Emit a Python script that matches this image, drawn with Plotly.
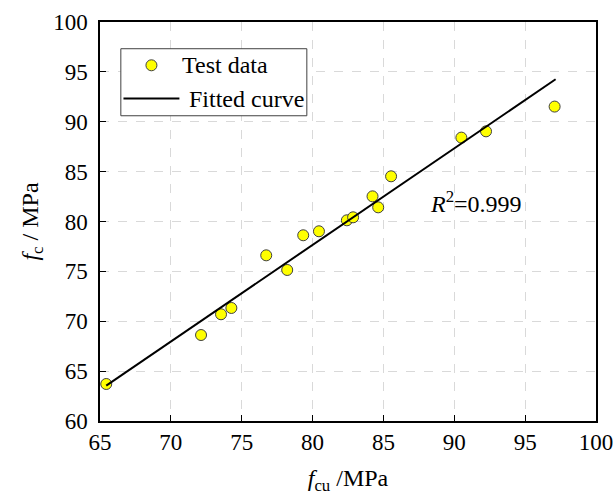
import plotly.graph_objects as go

# Measured cube strength vs. prism strength (MPa)
fcu = [65.44, 72.13, 73.54, 74.27, 76.73, 78.21, 79.34, 80.45, 82.42, 82.86,
       84.23, 84.63, 85.54, 90.50, 92.24, 97.08]
fc = [63.71, 68.62, 70.70, 71.33, 76.61, 75.14, 78.62, 79.02, 80.12, 80.42,
      82.52, 81.42, 84.53, 88.41, 89.04, 91.52]

# Linear fit endpoints
fit_x = [65.44, 97.15]
fit_y = [63.55, 94.26]

x_ticks = [65, 70, 75, 80, 85, 90, 95, 100]
y_ticks = [60, 65, 70, 75, 80, 85, 90, 95, 100]

FONT = "Liberation Serif, Times New Roman, serif"
MARKER_FILL = "#FFFF00"
MARKER_EDGE = "#404040"

fig = go.Figure()
fig.add_trace(go.Scatter(
    x=fcu, y=fc, mode="markers", name="Test data", showlegend=False,
    marker=dict(size=11, color=MARKER_FILL, line=dict(color=MARKER_EDGE, width=1)),
))
fig.add_trace(go.Scatter(
    x=fit_x, y=fit_y, mode="lines", name="Fitted curve", showlegend=False,
    line=dict(color="black", width=2),
))

axis_common = dict(
    showline=True, linecolor="black", linewidth=1.5, mirror=True,
    ticks="inside", ticklen=6, tickwidth=1.2, tickcolor="black",
    showgrid=True, gridcolor="#d9d9d9", gridwidth=1, griddash="dash",
    zeroline=False, automargin=False,
    tickfont=dict(family=FONT, size=23, color="black"),
)

fig.update_xaxes(
    range=[65, 100], tickvals=x_ticks, ticktext=[str(v) for v in x_ticks],
    title=dict(text="<i>f</i><sub>cu</sub> /MPa",
               font=dict(family=FONT, size=24, color="black"), standoff=18),
    **axis_common,
)
fig.update_yaxes(
    range=[60, 100], tickvals=y_ticks, ticktext=[str(v) for v in y_ticks],
    ticklabelstandoff=6,
    title=dict(text="<i>f</i><sub>c</sub> / MPa",
               font=dict(family=FONT, size=24, color="black"), standoff=8),
    **axis_common,
)

fig.add_annotation(
    x=91.5, y=82.0, xref="x", yref="y", showarrow=False,
    text="<i>R</i><sup>2</sup>=0.999",
    font=dict(family=FONT, size=24, color="black"),
)

# Legend box drawn in paper coordinates
fig.add_shape(type="rect", xref="paper", yref="paper",
              x0=0.042, x1=0.417, y0=0.765, y1=0.933,
              line=dict(color=MARKER_EDGE, width=1), fillcolor="white", layer="above")
fig.add_shape(type="circle", xref="paper", yref="paper",
              xsizemode="pixel", ysizemode="pixel",
              xanchor=0.1037, yanchor=0.8915, x0=-5.5, x1=5.5, y0=-5.5, y1=5.5,
              line=dict(color=MARKER_EDGE, width=1), fillcolor=MARKER_FILL, layer="above")
fig.add_shape(type="line", xref="paper", yref="paper",
              x0=0.0473, x1=0.1601, y0=0.808, y1=0.808,
              line=dict(color="black", width=2), layer="above")
fig.add_annotation(x=0.162, y=0.8915, xref="paper", yref="paper",
                   xanchor="left", yanchor="middle", showarrow=False,
                   text="Test data", font=dict(family=FONT, size=24, color="black"))
fig.add_annotation(x=0.1756, y=0.808, xref="paper", yref="paper",
                   xanchor="left", yanchor="middle", showarrow=False,
                   text="Fitted curve", font=dict(family=FONT, size=24, color="black"))

fig.update_layout(
    width=614, height=495,
    margin=dict(l=100, r=18, t=22, b=74),
    paper_bgcolor="white", plot_bgcolor="white",
    font=dict(family=FONT, color="black"),
    showlegend=False,
)

fig.write_html("out.html")
